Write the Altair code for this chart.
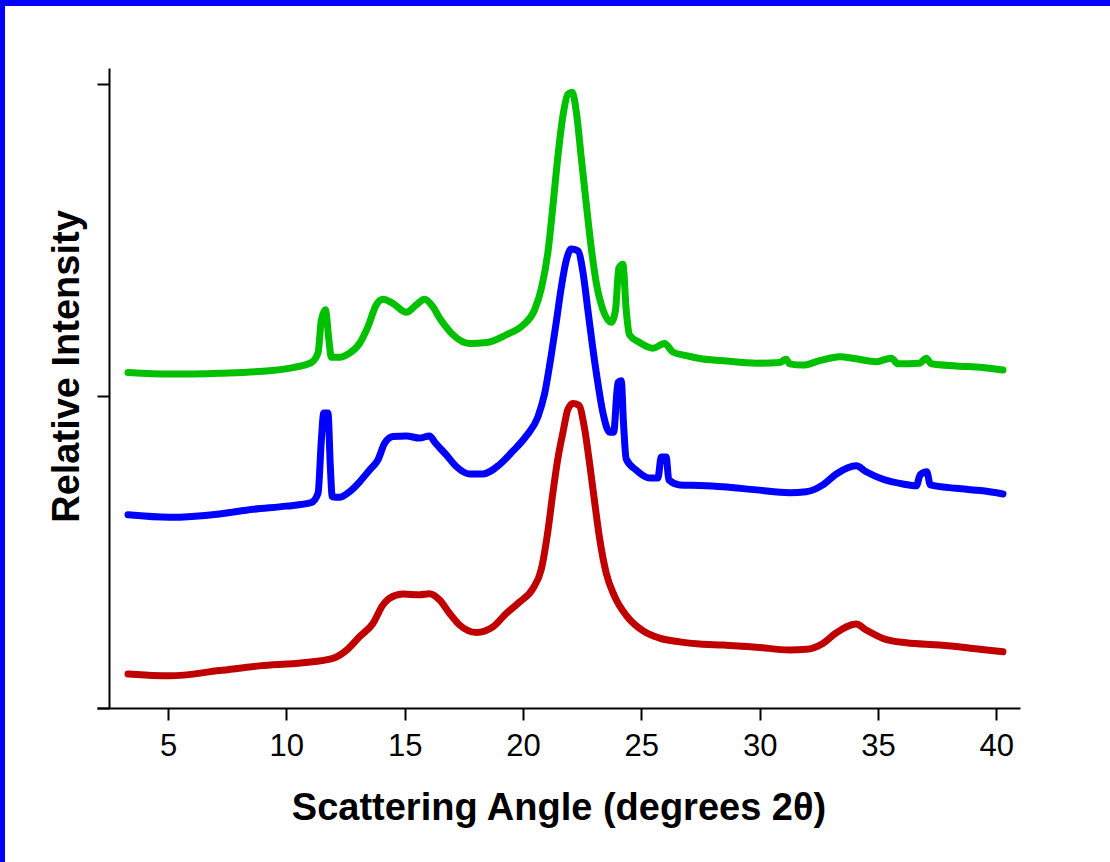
import altair as alt
import pandas as pd

# ---- data (angle in degrees 2θ, intensity in arbitrary units) ----
green_angle = [3.31, 5.07, 7.18, 9.29, 10.28, 11.05, 11.34, 11.48, 11.65, 11.80, 11.90, 12.25, 12.67,
               13.10, 13.45, 13.80, 14.08, 14.50, 15.07, 15.49, 15.84, 16.19, 16.48, 16.69, 17.04,
               17.74, 18.45, 19.29, 20.00, 20.49, 20.77, 21.05, 21.26, 21.47, 21.69, 21.90, 22.08,
               22.25, 22.46, 22.67, 22.89, 23.10, 23.38, 23.73, 23.91, 24.05, 24.22, 24.36, 24.50,
               24.93, 25.49, 25.98, 26.33, 26.90, 27.46, 28.45, 29.86, 30.84, 31.12, 31.26, 31.83,
               32.53, 33.38, 34.08, 34.93, 35.56, 35.84, 36.76, 37.04, 37.25, 38.31, 39.43, 40.28]
green_int = [1075, 1070, 1073, 1081, 1091, 1107, 1138, 1244, 1276, 1179, 1124, 1124, 1137,
             1169, 1222, 1292, 1310, 1297, 1268, 1292, 1310, 1286, 1249, 1227, 1196,
             1168, 1171, 1196, 1227, 1276, 1343, 1459, 1606, 1765, 1899, 1967, 1973,
             1912, 1765, 1618, 1471, 1361, 1276, 1236, 1276, 1410, 1422, 1276, 1196,
             1171, 1153, 1168, 1141, 1129, 1120, 1113, 1105, 1107, 1118, 1103, 1099,
             1113, 1126, 1119, 1110, 1121, 1103, 1105, 1121, 1103, 1096, 1091, 1083]

blue_angle = [3.31, 5.07, 7.18, 8.59, 10.00, 11.05, 11.34, 11.48, 11.58, 11.76, 11.86, 11.94, 12.25,
              12.67, 13.10, 13.52, 13.87, 14.15, 14.50, 15.07, 15.63, 16.05, 16.30, 16.76, 17.18,
              17.74, 18.31, 19.01, 19.57, 20.14, 20.63, 20.91, 21.19, 21.41, 21.62, 21.83, 22.04,
              22.32, 22.53, 22.74, 22.95, 23.16, 23.38, 23.66, 23.83, 24.01, 24.15, 24.25, 24.36,
              24.79, 25.35, 25.70, 25.84, 26.05, 26.16, 26.62, 27.46, 28.45, 29.86, 31.26, 31.97,
              32.67, 33.24, 34.08, 34.50, 35.21, 36.05, 36.62, 36.78, 37.06, 37.21, 38.31, 39.43,
              40.28]
blue_int = [619, 611, 622, 637, 647, 658, 688, 859, 945, 945, 773, 677, 675,
            693, 725, 763, 795, 848, 870, 872, 865, 872, 849, 811, 774,
            750, 750, 780, 823, 872, 933, 1006, 1129, 1239, 1349, 1435, 1471,
            1465, 1398, 1276, 1153, 1043, 945, 884, 884, 1043, 1049, 909, 798,
            762, 737, 737, 804, 804, 731, 715, 713, 709, 699, 690, 693,
            715, 750, 776, 757, 733, 718, 712, 747, 757, 715, 704, 696,
            686]

red_angle = [3.31, 5.07, 7.18, 8.87, 10.70, 11.97, 12.53, 13.10, 13.66, 14.08, 14.36, 14.93, 15.63,
             16.05, 16.48, 16.90, 17.32, 18.03, 18.73, 19.29, 19.86, 20.42, 20.77, 21.05, 21.26,
             21.47, 21.69, 21.90, 22.11, 22.36, 22.60, 22.81, 23.02, 23.24, 23.52, 23.87, 24.36,
             25.06, 25.77, 26.62, 27.46, 28.45, 29.86, 31.26, 31.97, 32.67, 33.24, 34.08, 34.50,
             35.21, 36.19, 37.60, 39.01, 40.28]
red_int = [109, 103, 120, 135, 145, 159, 184, 229, 271, 330, 352, 365, 363,
           366, 346, 303, 266, 242, 260, 303, 340, 383, 444, 566, 688,
           798, 884, 958, 976, 970, 896, 786, 664, 542, 431, 358, 297,
           248, 224, 212, 205, 202, 195, 186, 188, 207, 241, 269, 250,
           223, 209, 202, 191, 180]

series_names = ["Sample 1", "Sample 2", "Sample 3"]
series_colors = ["#c00000", "#0000ff", "#00c000"]
x_ticks = [5, 10, 15, 20, 25, 30, 35, 40]
y_ticks = [0, 1000, 2000]

frames = []
for name, xs, ys in zip(series_names,
                        [red_angle, blue_angle, green_angle],
                        [red_int, blue_int, green_int]):
    frames.append(pd.DataFrame({"angle": xs, "intensity": ys, "sample": name}))
df = pd.concat(frames, ignore_index=True)

lines = alt.Chart(df).mark_line(strokeWidth=7, strokeJoin="round", strokeCap="round",
                                interpolate="monotone").encode(
    x=alt.X("angle:Q",
            scale=alt.Scale(domain=[2, 41], nice=False, zero=False),
            axis=alt.Axis(title="Scattering Angle (degrees 2θ)", values=x_ticks,
                          grid=False, tickSize=12, tickWidth=2, domainWidth=2,
                          domainColor="black", tickColor="black",
                          labelFont="Liberation Sans", labelFontSize=31, labelColor="black",
                          labelPadding=11,
                          titleFont="Liberation Sans", titleFontSize=38, titleFontWeight="bold",
                          titleColor="black", titlePadding=28)),
    y=alt.Y("intensity:Q",
            scale=alt.Scale(domain=[0, 2051], nice=False, zero=False),
            axis=alt.Axis(title="Relative Intensity", values=y_ticks, labels=False,
                          grid=False, tickSize=12, tickWidth=2, domainWidth=2, offset=-12,
                          domainColor="black", tickColor="black",
                          titleFont="Liberation Sans", titleFontSize=38, titleFontWeight="bold",
                          titleColor="black", titlePadding=10, titleY=298)),
    color=alt.Color("sample:N", scale=alt.Scale(domain=series_names, range=series_colors),
                    legend=None),
    detail="sample:N",
)

frame_data = alt.Data(values=[{"k": 1}])
top_border = alt.Chart(frame_data).mark_rect(color="#0000ff").encode(
    x=alt.value(-97), x2=alt.value(1013), y=alt.value(-68), y2=alt.value(-62))
left_border = alt.Chart(frame_data).mark_rect(color="#0000ff").encode(
    x=alt.value(-97), x2=alt.value(-92), y=alt.value(-68), y2=alt.value(794))

chart = alt.layer(lines, top_border, left_border).properties(
    width=923, height=640, padding=0, background="white"
).configure_view(stroke=None)

chart.save("out.html", embed_options={"renderer": "svg", "actions": False})
